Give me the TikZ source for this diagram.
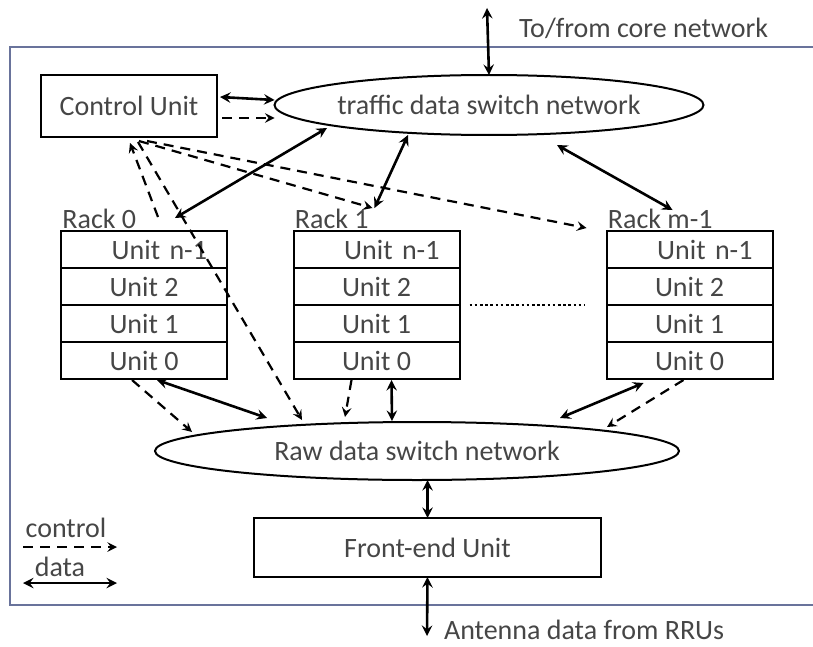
\documentclass[tikz,border=0pt]{standalone}
\usepackage{fontspec}
\setmainfont{Carlito}
\usepackage{tikz}
\usetikzlibrary{arrows,positioning,shapes.geometric,calc}
\definecolor{framecol}{RGB}{105,115,155}
\definecolor{txtgray}{RGB}{70,70,70}

\begin{document}
\begin{tikzpicture}[x=0.5pt, y=-0.5pt, >=stealth,
	every node/.style={font=\fontsize{14}{16}\selectfont, text=txtgray},
	box/.style={draw=black, rectangle, line width=1.3pt, inner sep=0pt, outer sep=0pt},
	swnet/.style={draw=black, ellipse, line width=1pt, inner sep=0pt, outer sep=0pt},
	unitrow/.style={draw=black, rectangle, line width=1pt, minimum width=83pt, minimum height=18.5pt, inner sep=0pt, outer sep=0pt},
	toprow/.style={unitrow, text width=63pt, align=right, inner xsep=10pt},
	racklbl/.style={anchor=base west, inner sep=0pt},
	data/.style={<->, line width=1.3pt},
	ctrl/.style={->, line width=1.1pt, dash pattern=on 5pt off 3.5pt}]
		
		\useasboundingbox (0,0) rectangle (813,647);
		\draw[framecol, line width=1.2pt] (10,47) rectangle (818,605);
		
		% Nodes
		\node[box, minimum width=88pt, minimum height=31pt] (cu) at (129,106) {Control Unit};
		\node[swnet, minimum width=207pt, minimum height=30pt] (traffic) at (489,105) {traffic data switch network};
		
		\foreach \x/\rk [count=\i] in {144/Rack 0, 376.5/Rack 1, 689.5/Rack m-1} {
			\node[toprow] (r\i1) at (\x,249.5) {Unit n-1};
			\foreach \y/\u [count=\j from 2] in {286.5/Unit 2, 323.5/Unit 1, 360.5/Unit 0}
				\node[unitrow] (r\i\j) at (\x,\y) {\u};
			\node[racklbl] at ($(r\i1.north west)+(1,-3)$) {\rk};
		}
		
		\node[swnet, minimum width=262pt, minimum height=29pt] (raw) at (417,451) {Raw data switch network};
		\node[box, minimum width=173.5pt, minimum height=29.5pt] (fe) at (427.5,547.5) {Front-end Unit};
		
		\coordinate (core) at (487,8);
		\coordinate (ant) at (427,636);
		\node[anchor=west] (corelbl) at (512,28) {To/from core network};
		\node[anchor=west] (antlbl) at (437,630) {Antenna data from RRUs};
		
		% legend
		\node (ctrllbl) at (66,528) {control};
		\coordinate (lc1) at (23,547);
		\coordinate (lc2) at (117,547);
		\node (datalbl) at (60,567) {data};
		\coordinate (ld1) at (23,583);
		\coordinate (ld2) at (117,583);
		
		% data links
		\draw[data] (core) -- (traffic.north);
		\draw[data] ($(cu.east)+(3,-9)$) -- ($(traffic.west)+(0,-5)$);
		\draw[data] ($(traffic.center)+(-162,23)$) -- ($(r11.north)+(31,-13)$);
		\draw[data] ($(r21.north)+(-2,-23)$) -- ($(traffic.center)+(-81,30)$);
		\draw[data] ($(traffic.center)+(68,40)$) -- ($(r31.north)+(-17,-21)$);
		\draw[data] ($(r14.south)+(13,1)$) -- ($(raw.center)+(-150,-33)$);
		\draw[data] ($(r24.south)+(15,1)$) -- ($(raw.center)+(-25,-30)$);
		\draw[data] ($(r34.south)+(-46,4)$) -- ($(raw.center)+(143,-33)$);
		\draw[data] (fe.north |- raw.south) -- (fe.north);
		\draw[data] (fe.south) -- (ant);
		\draw[data] (ld1) -- (ld2);
		
		% control links
		\draw[ctrl] ($(cu.east)+(5,12)$) -- ($(traffic.west)+(0,13)$);
		\draw[ctrl] ($(r11.north)+(14,-14)$) -- ($(cu.south)+(1,6)$);
		\draw[ctrl] ($(cu.south)+(9,5)$) -- ($(raw.center)+(-115,-31)$);
		\draw[ctrl] ($(cu.south)+(10,4)$) -- ($(r21.north)+(-4,-23)$);
		\draw[ctrl] ($(cu.south)+(18,4)$) -- ($(r31.north west)+(-20,-3)$);
		\draw[ctrl] ($(r14.south)+(-12,1)$) -- ($(raw.center)+(-225,-19)$);
		\draw[ctrl] ($(r24.south)+(-25,1)$) -- ($(raw.center)+(-72,-34)$);
		\draw[ctrl] ($(r34.south)+(-6,1)$) -- ($(raw.center)+(190,-24)$);
		\draw[ctrl] (lc1) -- (lc2);
		
		% dots between racks
		\draw[line width=1.3pt, dash pattern=on 1.3pt off 1.3pt] ($(r22.south east)+(10,0)$) -- ($(r32.south west)+(-22,0)$);
		
	\end{tikzpicture}
\end{document}
